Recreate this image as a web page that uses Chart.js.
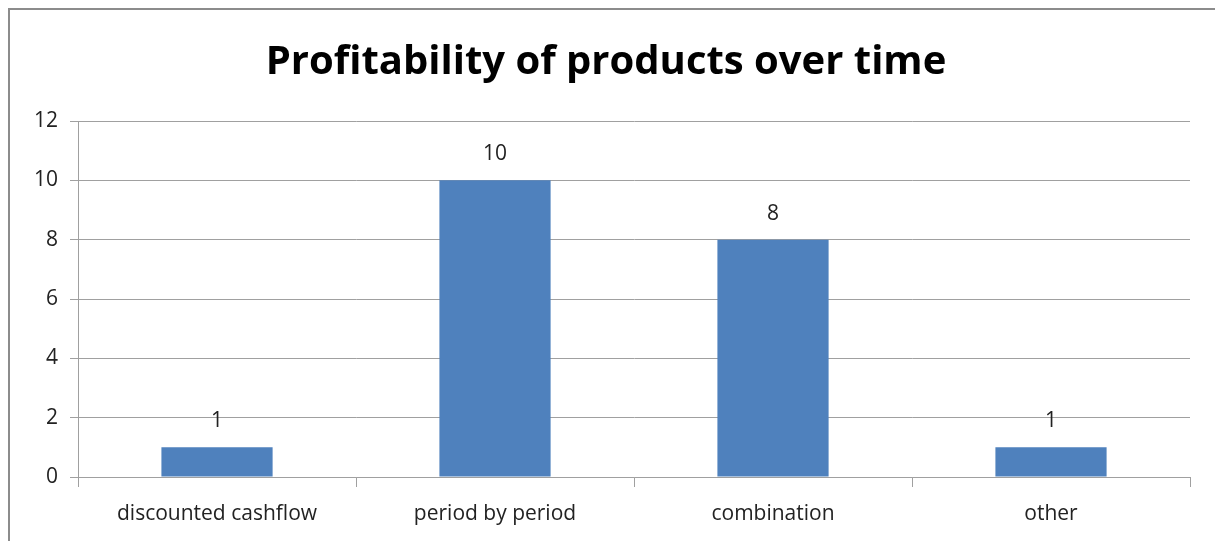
<!DOCTYPE html>
<html>
<head>
<meta charset="utf-8">
<script src="https://cdn.jsdelivr.net/npm/chart.js@4/dist/chart.umd.min.js"></script>
<style>
  html, body { margin: 0; padding: 0; background: #fff; }
  #wrap { width: 1215px; height: 541px; position: relative; }
</style>
</head>
<body>
<div id="wrap"><canvas id="barChart"></canvas></div>
<script>
// Chart data
const categories = ["discounted cashflow", "period by period", "combination", "other"];
const counts = [1, 10, 8, 1];
const yTicks = [0, 2, 4, 6, 8, 10, 12];

const FONT = "'Open Sans', 'Noto Sans', sans-serif";

// Grey frame around the chart (top and left edges visible)
const framePlugin = {
  id: "frame",
  beforeDraw(chart) {
    const ctx = chart.ctx;
    ctx.save();
    ctx.fillStyle = "#fff";
    ctx.fillRect(0, 0, chart.width, chart.height);
    ctx.strokeStyle = "#8c8c8c";
    ctx.lineWidth = 2;
    ctx.beginPath();
    ctx.moveTo(9, chart.height);
    ctx.lineTo(9, 9);
    ctx.lineTo(chart.width, 9);
    ctx.stroke();
    ctx.restore();
  },
};

// Value labels above each bar
const valueLabels = {
  id: "valueLabels",
  afterDatasetsDraw(chart) {
    const ctx = chart.ctx;
    const meta = chart.getDatasetMeta(0);
    ctx.save();
    ctx.fillStyle = "#222";
    ctx.font = "21px " + FONT;
    ctx.textAlign = "center";
    ctx.textBaseline = "middle";
    meta.data.forEach((bar, i) => {
      ctx.fillText(String(counts[i]), bar.x, bar.y - 26);
    });
    ctx.restore();
  },
};

new Chart(document.getElementById("barChart").getContext("2d"), {
  type: "bar",
  data: {
    labels: categories,
    datasets: [
      {
        data: counts,
        backgroundColor: "#4F81BD",
        borderWidth: 0,
        barPercentage: 0.4,
        categoryPercentage: 1.0,
      },
    ],
  },
  options: {
    responsive: true,
    maintainAspectRatio: false,
    animation: false,
    layout: { padding: { left: 22, right: 25, top: 0, bottom: 0 } },
    plugins: {
      legend: { display: false },
      tooltip: { enabled: false },
      title: {
        display: true,
        text: "Profitability of products over time",
        color: "#000",
        font: { family: FONT, size: 40, weight: "bold" },
        padding: { top: 39, bottom: 34 },
      },
    },
    scales: {
      x: {
        afterFit(axis) {
          axis.height = 64;
        },
        grid: {
          offset: true,
          drawOnChartArea: false,
          color: "#a0a0a0",
          tickLength: 10,
        },
        border: { color: "#a0a0a0" },
        ticks: {
          color: "#222",
          font: { family: FONT, size: 21 },
          padding: 14,
        },
      },
      y: {
        min: 0,
        max: 12,
        afterBuildTicks(axis) {
          axis.ticks = yTicks.map((v) => ({ value: v }));
        },
        grid: { color: "#a0a0a0", tickLength: 8 },
        border: { color: "#a0a0a0" },
        ticks: {
          color: "#222",
          font: { family: FONT, size: 21 },
          padding: 12,
        },
      },
    },
  },
  plugins: [framePlugin, valueLabels],
});
</script>
</body>
</html>
